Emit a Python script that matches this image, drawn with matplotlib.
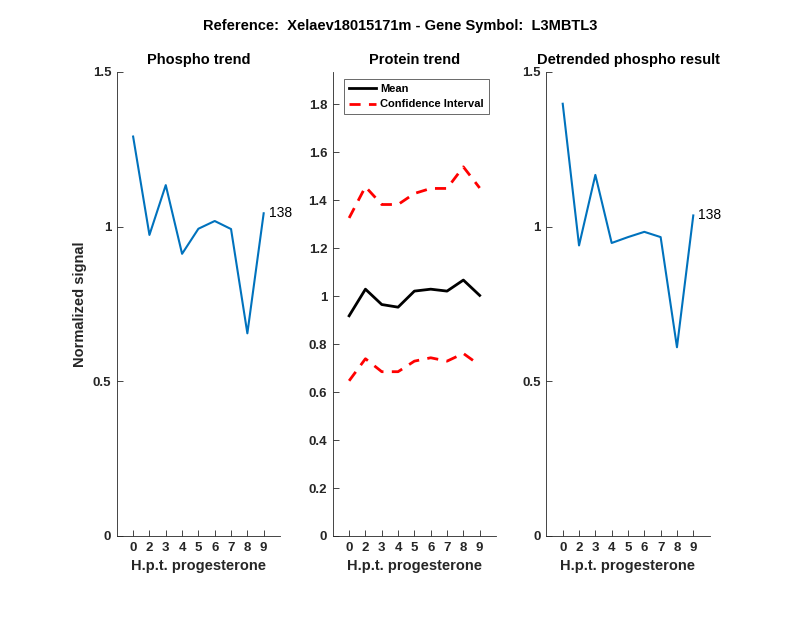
import matplotlib
matplotlib.use("Agg")
import matplotlib.pyplot as plt

plt.rcParams["font.family"] = ["Liberation Sans", "DejaVu Sans"]

# hours post progesterone (categorical labels)
time_labels = ["0", "2", "3", "4", "5", "6", "7", "8", "9"]

phospho = [1.291, 0.973, 1.134, 0.912, 0.993, 1.018, 0.992, 0.655, 1.043]
protein_mean = [0.918, 1.029, 0.965, 0.954, 1.021, 1.029, 1.021, 1.067, 1.003]
protein_upper = [1.326, 1.456, 1.382, 1.382, 1.428, 1.449, 1.449, 1.539, 1.451]
protein_lower = [0.647, 0.739, 0.685, 0.685, 0.729, 0.743, 0.729, 0.761, 0.712]
detrended = [1.397, 0.939, 1.167, 0.947, 0.966, 0.983, 0.966, 0.610, 1.036]
peptide_id = "138"

blue = "#0072BD"
axcol = "#262626"
xpos = list(range(1, len(time_labels) + 1))

fig = plt.figure(figsize=(8, 6.18), dpi=100)
bottom, height, width = 0.1327, 0.751, 0.204
ax1 = fig.add_axes([0.146, bottom, width, height])
ax2 = fig.add_axes([0.416, bottom, width, height])
ax3 = fig.add_axes([0.683, bottom, width, height])


def style(ax):
    for s in ("top", "right"):
        ax.spines[s].set_visible(False)
    for s in ("left", "bottom"):
        ax.spines[s].set_color(axcol)
        ax.spines[s].set_linewidth(0.6)
    ax.tick_params(direction="in", length=4, width=0.6, colors=axcol,
                   labelsize=9.5, pad=4)
    ax.set_xlim(0, 10)
    ax.set_xticks(xpos)
    ax.set_xticklabels(time_labels, fontweight="bold")
    for lab in ax.get_yticklabels():
        lab.set_fontweight("bold")
    ax.set_xlabel("H.p.t. progesterone", fontsize=10.5, fontweight="bold", color=axcol)


# phospho trend
ax1.plot(xpos, phospho, color=blue, lw=1.5)
ax1.set_ylim(0, 1.5)
ax1.set_yticks([0, 0.5, 1, 1.5])
ax1.set_yticklabels(["0", "0.5", "1", "1.5"])
ax1.text(xpos[-1] + 0.3, phospho[-1], peptide_id, fontsize=10, va="center")
ax1.set_title("Phospho trend", fontsize=10.5, fontweight="bold")
ax1.set_ylabel("Normalized signal", fontsize=10.5, fontweight="bold", color=axcol)
style(ax1)

# protein trend
ax2.plot(xpos, protein_mean, color="black", lw=2, label="Mean")
ax2.plot(xpos, protein_upper, color="red", lw=2, ls=(0, (4, 3)), label="Confidence Interval")
ax2.plot(xpos, protein_lower, color="red", lw=2, ls=(0, (4, 3)))
ax2.set_ylim(0, 1.935)
yt = [0, 0.2, 0.4, 0.6, 0.8, 1, 1.2, 1.4, 1.6, 1.8]
ax2.set_yticks(yt)
ax2.set_yticklabels(["0", "0.2", "0.4", "0.6", "0.8", "1", "1.2", "1.4", "1.6", "1.8"])
ax2.set_title("Protein trend", fontsize=10.5, fontweight="bold")
leg = ax2.legend(loc="upper left", bbox_to_anchor=(0.07, 0.985),
                 frameon=True, fancybox=False, handlelength=2.4, handletextpad=0.4,
                 borderpad=0.45, labelspacing=0.5, borderaxespad=0,
                 prop={"weight": "bold", "size": 8})
leg.get_frame().set_edgecolor(axcol)
leg.get_frame().set_linewidth(0.6)
style(ax2)

# detrended
ax3.plot(xpos, detrended, color=blue, lw=1.5)
ax3.set_ylim(0, 1.5)
ax3.set_yticks([0, 0.5, 1, 1.5])
ax3.set_yticklabels(["0", "0.5", "1", "1.5"])
ax3.text(xpos[-1] + 0.3, detrended[-1], peptide_id, fontsize=10, va="center")
ax3.set_title("Detrended phospho result", fontsize=10.5, fontweight="bold")
style(ax3)

fig.text(0.5, 0.958, "Reference:  Xelaev18015171m - Gene Symbol:  L3MBTL3",
         ha="center", va="center", fontsize=10.5, fontweight="bold")

fig.savefig("out.png", dpi=100)
